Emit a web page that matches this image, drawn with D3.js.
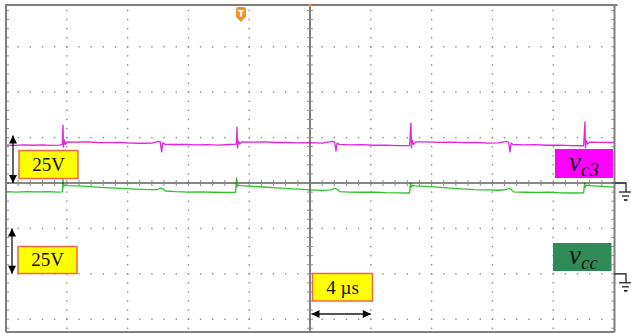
<!DOCTYPE html>
<html>
<head>
<meta charset="utf-8">
<script src="https://cdn.jsdelivr.net/npm/d3@7"></script>
<style>
  html, body { margin: 0; padding: 0; background: #fff; }
  svg { display: block; }
</style>
</head>
<body>
<svg id="chart" width="631" height="333"></svg>
<script>
// ---- data ----
// time axis: 10 divisions of 4 µs; vertical: 25 V / division
const timeTicks = [0, 4, 8, 12, 16, 20, 24, 28, 32, 36, 40];
const divTicks = [-3, -2, -1, 0, 1, 2, 3];
const voltsPerDiv = 25;
const timeScaleLabel = "4 µs";
const voltLabels = ["25V", "25V"];

// v_c3 (magenta), ground at 0 div
const vc3T = [0.00,0.60,1.20,1.80,2.40,3.00,3.50,3.70,3.75,3.78,3.85,3.92,4.02,4.60,5.30,6.00,6.80,7.50,8.20,8.90,9.60,10.00,10.15,10.24,10.32,10.45,11.00,11.80,12.50,13.20,14.00,14.70,15.15,15.20,15.23,15.30,15.38,15.50,16.20,17.00,17.80,18.50,19.20,20.00,20.80,21.45,21.62,21.71,21.78,21.92,22.60,23.40,24.20,25.00,25.80,26.55,26.64,26.67,26.74,26.82,26.95,27.70,28.50,29.30,30.10,30.90,31.70,32.40,32.90,33.07,33.16,33.23,33.36,34.00,34.80,35.60,36.40,37.20,38.00,38.09,38.12,38.19,38.27,38.40,39.20,40.00];
const vc3V = [20.9,20.7,21.0,20.8,21.0,20.7,20.9,21.1,31.9,19.8,23.7,21.2,22.6,22.5,22.6,22.3,22.2,22.3,22.0,21.9,22.0,22.9,22.6,17.1,22.2,21.3,21.2,21.3,21.0,21.1,20.9,21.2,21.4,30.8,19.3,23.1,21.5,22.6,22.5,22.6,22.3,22.4,22.1,22.2,22.0,22.9,22.6,17.6,22.0,21.3,21.0,21.1,20.8,20.9,20.6,20.6,33.0,19.3,23.4,21.3,22.6,22.6,22.4,22.5,22.2,22.3,22.0,22.1,22.9,22.4,17.1,22.0,21.2,21.0,21.1,20.8,20.9,20.6,20.5,33.6,19.5,23.2,21.4,22.5,22.4,22.3];

// v_cc (green), ground at -2 div
const vccT = [0.00,0.70,1.40,2.10,2.80,3.40,3.72,3.75,3.78,3.85,4.00,4.60,5.30,6.00,6.80,7.50,8.20,8.90,9.60,10.00,10.20,10.35,10.50,11.20,12.00,12.80,13.60,14.40,15.10,15.17,15.21,15.28,15.45,16.10,16.90,17.60,18.40,19.20,20.00,20.80,21.40,21.65,21.80,21.95,22.60,23.40,24.20,25.00,25.80,26.55,26.62,26.66,26.75,26.90,27.60,28.40,29.20,30.00,30.80,31.60,32.40,32.90,33.10,33.25,33.40,34.10,34.90,35.70,36.50,37.30,38.00,38.07,38.11,38.20,38.40,39.20,40.00];
const vccV = [45.2,45.0,45.3,45.1,45.2,45.0,45.1,52.8,47.9,48.9,48.6,48.4,48.1,47.7,47.3,47.0,46.8,46.5,46.3,46.4,47.2,46.6,45.6,45.2,45.0,45.1,44.9,44.8,44.9,52.8,47.8,48.8,48.5,48.2,47.8,47.4,47.0,46.6,46.2,45.9,46.2,47.1,46.4,45.3,45.0,44.9,45.0,44.7,44.6,44.5,49.9,47.6,48.7,48.4,48.1,47.7,47.2,46.8,46.4,46.2,46.0,46.3,47.1,46.3,45.1,44.9,44.8,44.9,44.6,44.5,44.6,49.9,47.6,48.8,48.5,48.1,47.7];

const channels = [
  { name: "c3", t: vc3T, v: vc3V, offset: 0, color: "#e024e0", box: "#ff00ff" },
  { name: "cc", t: vccT, v: vccV, offset: -2, color: "#2ec42e", box: "#2e8b57" }
];

// ---- layout ----
const svg = d3.select("#chart");
const F = { left: 6, right: 614.5, top: 5, bottom: 332 };
const x = d3.scaleLinear().domain([0, 40]).range([6, 614]);
const y = d3.scaleLinear().domain([-4, 4]).range([183 + 4 * 45.4, 183 - 4 * 45.4]);
const yc = (ch, v) => y(v / voltsPerDiv + ch.offset);
const gridColor = "#8a8a8a";

svg.append("defs").append("clipPath").attr("id", "clip")
  .append("rect").attr("x", F.left).attr("y", F.top)
  .attr("width", F.right - F.left).attr("height", F.bottom - F.top);

const grid = svg.append("g");
// dotted vertical gridlines
const minorY = d3.range(-4, 4.001, 0.2).filter(d => y(d) > F.top + 2 && y(d) < F.bottom - 1);
const minorX = d3.range(0, 40.001, 0.8);
timeTicks.forEach(t => {
  if (t === 0 || t === 40 || t === 20) return;
  grid.selectAll(null).data(minorY).enter().append("rect")
    .attr("x", x(t) - 0.7).attr("y", d => y(d) - 0.7).attr("width", 1.4).attr("height", 1.4)
    .attr("fill", gridColor);
});
divTicks.forEach(dv => {
  if (dv === 0) return;
  grid.selectAll(null).data(minorX.filter(t => t > 0 && t < 40)).enter().append("rect")
    .attr("x", d => x(d) - 0.7).attr("y", y(dv) - 0.7).attr("width", 1.4).attr("height", 1.4)
    .attr("fill", gridColor);
});
// ticks along left/right borders
grid.selectAll(null).data(minorY).enter().append("line")
  .attr("x1", F.left).attr("x2", F.left + 3).attr("y1", d => y(d)).attr("y2", d => y(d))
  .attr("stroke", gridColor).attr("stroke-width", 1);
grid.selectAll(null).data(minorY).enter().append("line")
  .attr("x1", F.right - 3).attr("x2", F.right).attr("y1", d => y(d)).attr("y2", d => y(d))
  .attr("stroke", gridColor).attr("stroke-width", 1);

// traces
const gTr = svg.append("g").attr("clip-path", "url(#clip)");
channels.forEach(ch => {
  const pts = ch.t.map((t, i) => [t, ch.v[i]]);
  gTr.append("path").datum(pts)
    .attr("fill", "none").attr("stroke", ch.color).attr("stroke-width", 1.3)
    .attr("stroke-linejoin", "round")
    .attr("d", d3.line().x(d => x(d[0])).y(d => yc(ch, d[1])));
});

// center axes with ticks
svg.append("line").attr("x1", F.left).attr("x2", 626).attr("y1", y(0)).attr("y2", y(0))
  .attr("stroke", "#111").attr("stroke-width", 1.1);
svg.selectAll(null).data(minorX.filter(t => t > 0 && t < 40)).enter().append("line")
  .attr("x1", d => x(d)).attr("x2", d => x(d)).attr("y1", y(0) - 3).attr("y2", y(0) + 3)
  .attr("stroke", gridColor).attr("stroke-width", 1);
svg.append("line").attr("x1", x(20)).attr("x2", x(20)).attr("y1", F.top).attr("y2", F.bottom)
  .attr("stroke", "#555").attr("stroke-width", 1.5);
svg.selectAll(null).data(minorY).enter().append("line")
  .attr("x1", x(20) - 3).attr("x2", x(20) + 3).attr("y1", d => y(d)).attr("y2", d => y(d))
  .attr("stroke", gridColor).attr("stroke-width", 1);

// frame
svg.append("path")
  .attr("d", `M${F.left},${F.bottom}V${F.top}H${F.right + 3}M${F.right},${F.top}V${F.bottom}M${F.left},${F.bottom}H${F.right}`)
  .attr("fill", "none").attr("stroke", "#7f7f7f").attr("stroke-width", 2);
svg.append("rect").attr("x", x(20) - 1).attr("y", F.top - 1).attr("width", 2).attr("height", 3).attr("fill", "#f39a2a");

// ground symbols
channels.forEach(ch => {
  const gy = y(ch.offset);
  const g = svg.append("g").attr("stroke", "#111").attr("fill", "none").attr("stroke-width", 1.2);
  g.append("path").attr("d", `M${F.right},${gy}H626V${gy + 9}`);
  g.append("line").attr("x1", 619).attr("x2", 631).attr("y1", gy + 9).attr("y2", gy + 9);
  g.append("line").attr("x1", 622).attr("x2", 629).attr("y1", gy + 13).attr("y2", gy + 13);
  g.append("line").attr("x1", 624).attr("x2", 627.5).attr("y1", gy + 17).attr("y2", gy + 17).attr("stroke-width", 1.6);
});

// trigger marker
const tx = 241;
svg.append("path")
  .attr("d", `M${tx - 5},9 Q${tx - 5},7 ${tx - 3},7 H${tx + 3} Q${tx + 5},7 ${tx + 5},9 V17 L${tx},22 L${tx - 5},17 Z`)
  .attr("fill", "#f7941d");
svg.append("text").attr("x", tx).attr("y", 16.5).attr("text-anchor", "middle")
  .attr("font-family", "DejaVu Sans, sans-serif").attr("font-weight", "bold").attr("font-size", 9)
  .attr("fill", "#fff").text("T");

// arrows
const defs = svg.select("defs");
function marker(id, color, w, h) {
  defs.append("marker").attr("id", id).attr("viewBox", "0 0 10 10").attr("refX", 10).attr("refY", 5)
    .attr("markerWidth", w).attr("markerHeight", h).attr("markerUnits", "userSpaceOnUse")
    .attr("orient", "auto-start-reverse")
    .append("path").attr("d", "M0,0 L10,5 L0,10 Z").attr("fill", color);
}
marker("ah", "#000", 9, 8);
function vArrow(xp, y1, y2) {
  svg.append("line").attr("x1", xp).attr("x2", xp).attr("y1", y1).attr("y2", y2)
    .attr("stroke", "#000").attr("stroke-width", 1.2)
    .attr("marker-start", "url(#ah)").attr("marker-end", "url(#ah)");
}
vArrow(13, y(1) - 2, y(0));
vArrow(12, y(-1), y(-2));
svg.append("line").attr("x1", x(20) + 1.5).attr("x2", x(24)).attr("y1", 314).attr("y2", 314)
  .attr("stroke", "#555").attr("stroke-width", 2)
  .attr("marker-start", "url(#ah)").attr("marker-end", "url(#ah)");

// yellow label boxes
function yBox(x0, y0, w, h, txt, base) {
  svg.append("rect").attr("x", x0).attr("y", y0).attr("width", w).attr("height", h)
    .attr("fill", "#ffff00").attr("stroke", "#f4664a").attr("stroke-width", 1.5);
  svg.append("text").attr("x", x0 + w / 2).attr("y", base).attr("text-anchor", "middle")
    .attr("font-family", "Liberation Serif, Times New Roman, serif").attr("font-size", 19)
    .attr("fill", "#111").text(txt);
}
yBox(19, 150.5, 59, 28, voltLabels[0], 170.5);
yBox(18, 246.5, 59, 27, voltLabels[1], 266);
yBox(312.5, 273.5, 60, 27.5, timeScaleLabel, 293.5);

// channel name boxes
const nameBoxes = [
  { x: 555, y: 149, w: 58, h: 29, base: 171, tx: 569 },
  { x: 553, y: 243, w: 58.5, h: 28, base: 264, tx: 569 }
];
channels.forEach((ch, i) => {
  const b = nameBoxes[i];
  svg.append("rect").attr("x", b.x).attr("y", b.y).attr("width", b.w).attr("height", b.h).attr("fill", ch.box);
  const t = svg.append("text").attr("x", b.tx).attr("y", b.base)
    .attr("font-family", "Liberation Serif, Times New Roman, serif").attr("font-style", "italic")
    .attr("fill", "#111");
  t.append("tspan").attr("font-size", 27).text("v");
  t.append("tspan").attr("font-size", 19).attr("dy", 5).text(ch.name);
});
</script>
</body>
</html>
